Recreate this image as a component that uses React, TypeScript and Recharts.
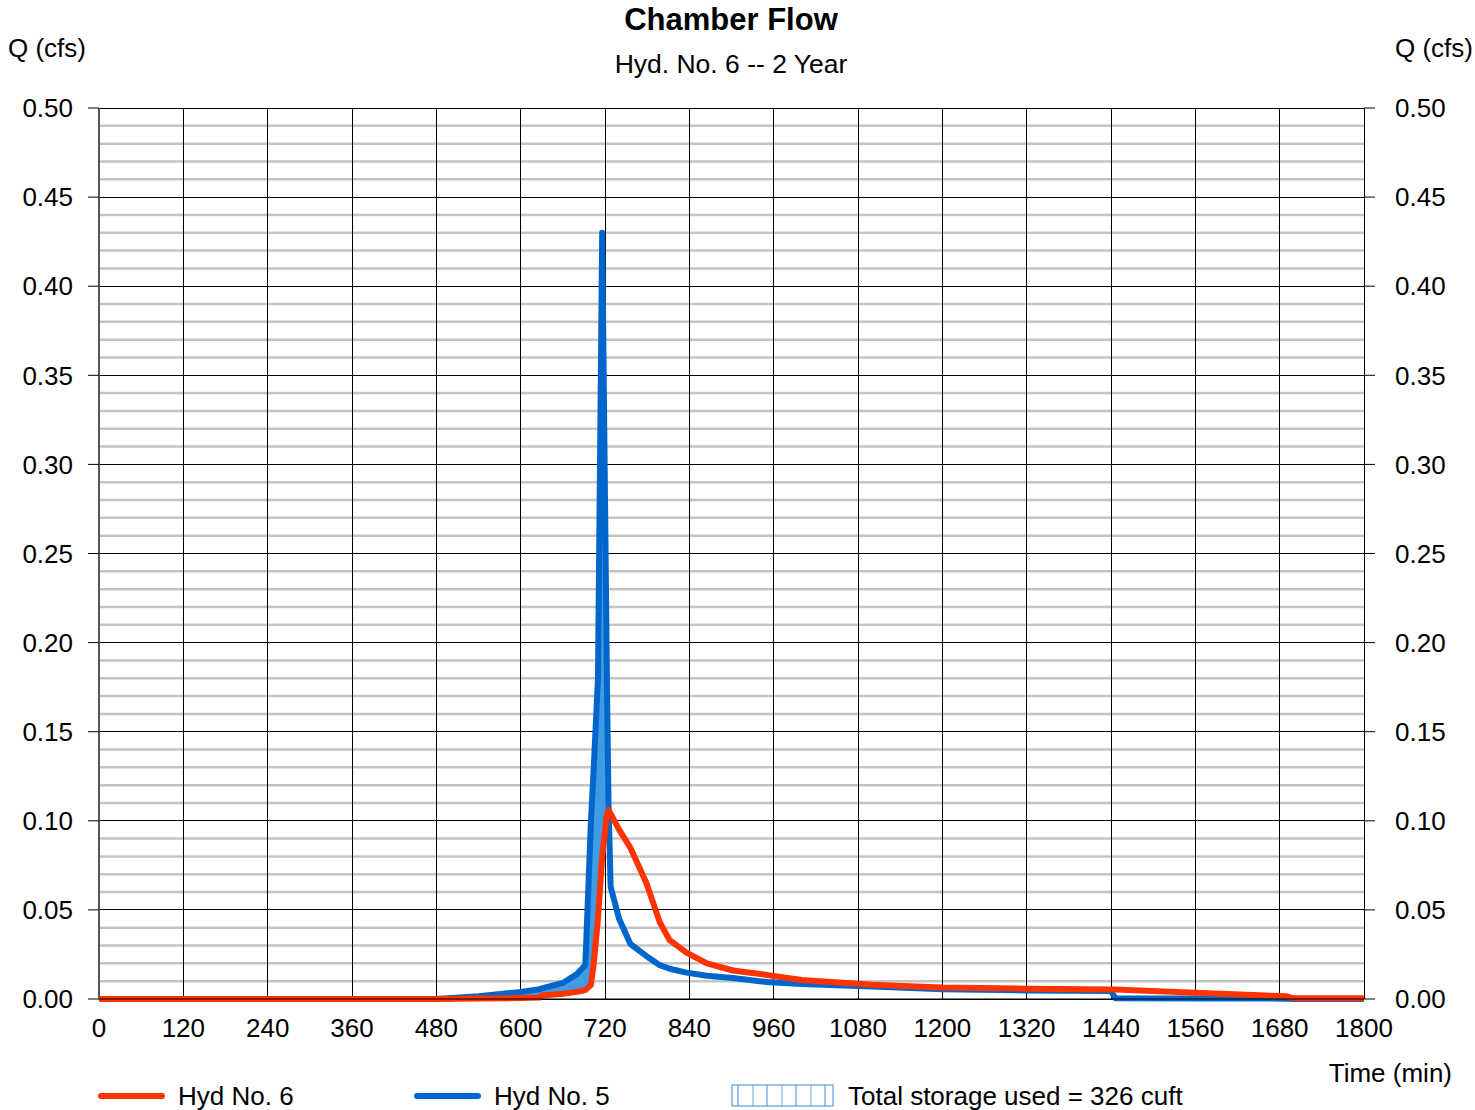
import React from 'react';
import { ComposedChart, Line, Area, XAxis, YAxis, CartesianGrid } from 'recharts';

const times = [0, 480, 540, 600, 627, 630, 660, 680, 692, 700, 704, 710, 716, 723, 725, 728, 740, 756, 779, 798, 812, 836, 865, 902, 950, 1000, 1100, 1200, 1320, 1440, 1446, 1560, 1690, 1700, 1800];
const hyd5 = [0, 0, 0.0015, 0.004, 0.0055, 0.006, 0.009, 0.014, 0.019, 0.1, 0.13, 0.18, 0.43, 0.17, 0.11, 0.063, 0.045, 0.031, 0.024, 0.019, 0.017, 0.0148, 0.013, 0.0118, 0.0095, 0.0084, 0.007, 0.0055, 0.0048, 0.0045, 0.0004, 0.0003, 0.0002, 0, 0];
const hyd6 = [0, 0, 0.0003, 0.0005, 0.0008, 0.002, 0.003, 0.004, 0.005, 0.008, 0.02, 0.045, 0.08, 0.104, 0.106, 0.104, 0.095, 0.085, 0.065, 0.043, 0.033, 0.026, 0.02, 0.016, 0.0135, 0.0107, 0.008, 0.0065, 0.0058, 0.0054, 0.0053, 0.0035, 0.0015, 0.0004, 0.0004];

const xTicks = [0, 120, 240, 360, 480, 600, 720, 840, 960, 1080, 1200, 1320, 1440, 1560, 1680, 1800];
const yTicks = [0, 0.05, 0.1, 0.15, 0.2, 0.25, 0.3, 0.35, 0.4, 0.45, 0.5];
const yMinor = [
  0.01, 0.02, 0.03, 0.04, 0.06, 0.07, 0.08, 0.09, 0.11, 0.12, 0.13, 0.14,
  0.16, 0.17, 0.18, 0.19, 0.21, 0.22, 0.23, 0.24, 0.26, 0.27, 0.28, 0.29,
  0.31, 0.32, 0.33, 0.34, 0.36, 0.37, 0.38, 0.39, 0.41, 0.42, 0.43, 0.44,
  0.46, 0.47, 0.48, 0.49,
];

const RED = '#ff3300';
const BLUE = '#0066cc';
const FILL = '#3f9be2';
const FONT = '"Liberation Sans", Arial, sans-serif';

const data = times.map((t, i) => ({
  t,
  hyd5: hyd5[i],
  hyd6: hyd6[i],
  storage: hyd5[i] > hyd6[i] ? [hyd6[i], hyd5[i]] : [hyd5[i], hyd5[i]],
}));

const tickStyle = { fontSize: 26, fill: '#000', fontFamily: FONT };

export default function App() {
  return (
    <div style={{ position: 'absolute', left: 0, top: 0, width: 1475, height: 1110, background: '#fff', fontFamily: FONT }}>
      <ComposedChart width={1475} height={1110} data={data} margin={{ top: 108, right: 51, bottom: 71, left: 39 }}>
        <CartesianGrid horizontalValues={yMinor} vertical={false} stroke="#c4c4c4" strokeWidth={2.5} />
        <CartesianGrid horizontalValues={yTicks} verticalValues={xTicks} stroke="#000" strokeWidth={1} shapeRendering="crispEdges" />
        <XAxis
          dataKey="t"
          type="number"
          domain={[0, 1800]}
          ticks={xTicks}
          interval={0}
          height={40}
          tickSize={0}
          tickMargin={20}
          tickLine={false}
          axisLine={{ stroke: '#000' }}
          tick={tickStyle}
        />
        <YAxis
          domain={[0, 0.5]}
          ticks={yTicks}
          interval={0}
          width={60}
          tickSize={11}
          tickMargin={15}
          tickFormatter={(v: number) => v.toFixed(2)}
          axisLine={{ stroke: '#555', strokeWidth: 2 }}
          tickLine={{ stroke: '#000' }}
          tick={tickStyle}
        />
        <YAxis
          yAxisId="r"
          orientation="right"
          domain={[0, 0.5]}
          ticks={yTicks}
          interval={0}
          width={60}
          tickSize={11}
          tickMargin={20}
          tickFormatter={(v: number) => v.toFixed(2)}
          axisLine={false}
          tickLine={{ stroke: '#000' }}
          tick={{ ...tickStyle, textAnchor: 'start' }}
        />
        <Area dataKey="storage" type="linear" stroke="none" fill={FILL} fillOpacity={1} isAnimationActive={false} />
        <Line yAxisId="r" dataKey="hyd5" type="linear" stroke="none" strokeWidth={0} dot={false} legendType="none" isAnimationActive={false} />
        <Line dataKey="hyd5" type="linear" stroke={BLUE} strokeWidth={6} dot={false} strokeLinejoin="round" isAnimationActive={false} />
        <Line dataKey="hyd6" type="linear" stroke={RED} strokeWidth={6} dot={false} strokeLinejoin="round" isAnimationActive={false} />
      </ComposedChart>

      <svg width={1475} height={1110} style={{ position: 'absolute', left: 0, top: 0, pointerEvents: 'none' }}>
        <g fontFamily={FONT} fill="#000">
          <text x={731} y={30} textAnchor="middle" fontSize={31} fontWeight="bold">Chamber Flow</text>
          <text x={731} y={73} textAnchor="middle" fontSize={26.5}>Hyd. No. 6 -- 2 Year</text>
          <text x={8} y={57} fontSize={26}>Q (cfs)</text>
          <text x={1473} y={57} fontSize={26} textAnchor="end">Q (cfs)</text>
          <text x={1452} y={1082} fontSize={26} textAnchor="end">Time (min)</text>

          <line x1={101} y1={1096} x2={162} y2={1096} stroke={RED} strokeWidth={6} strokeLinecap="round" />
          <text x={178} y={1105} fontSize={26}>Hyd No. 6</text>
          <line x1={417} y1={1096} x2={478} y2={1096} stroke={BLUE} strokeWidth={6} strokeLinecap="round" />
          <text x={494} y={1105} fontSize={26}>Hyd No. 5</text>

          <rect x={732} y={1085} width={101} height={21} fill="none" stroke="#3a8ad6" strokeWidth={1} />
          {[738, 753, 767, 782, 796, 811, 825].map((x, i) => (
            <line key={i} x1={x} y1={1085} x2={x} y2={1106} stroke={i % 2 ? '#6aa8e0' : '#3a8ad6'} strokeWidth={1} />
          ))}
          <text x={848} y={1105} fontSize={26}>Total storage used = 326 cuft</text>
        </g>
      </svg>
    </div>
  );
}
